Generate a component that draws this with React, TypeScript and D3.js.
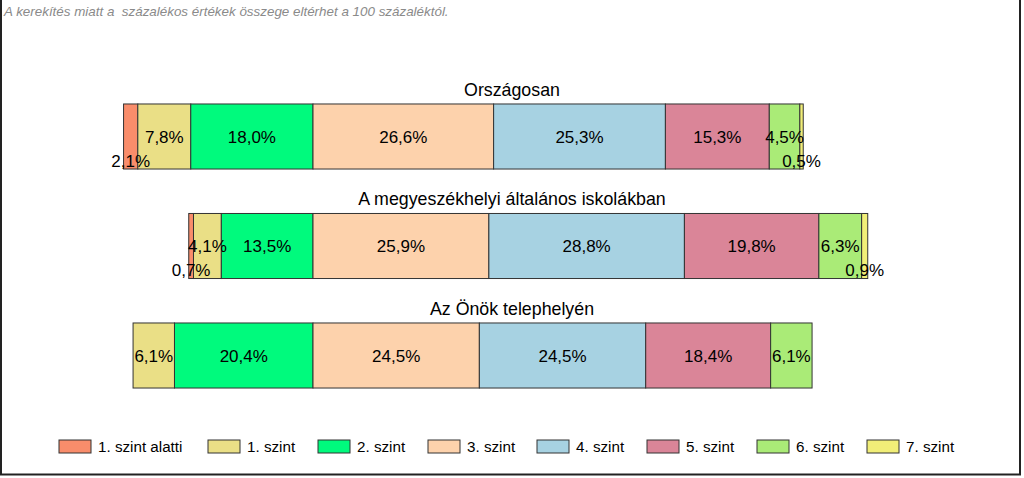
import React from "react";
import * as d3 from "d3";

const categories = ["Országosan", "A megyeszékhelyi általános iskolákban", "Az Önök telephelyén"];
const levels = ["1. szint alatti", "1. szint", "2. szint", "3. szint", "4. szint", "5. szint", "6. szint", "7. szint"];
const colors = ["#F98D6B", "#EADF86", "#00FA7D", "#FDD2AC", "#A7D2E2", "#DA8598", "#AAEB77", "#F1EE78"];
const orszagosan = [2.1, 7.8, 18.0, 26.6, 25.3, 15.3, 4.5, 0.5];
const megyeszekhely = [0.7, 4.1, 13.5, 25.9, 28.8, 19.8, 6.3, 0.9];
const telephely = [0, 6.1, 20.4, 24.5, 24.5, 18.4, 6.1, 0];
const series = [orszagosan, megyeszekhely, telephely];
const note = "A kerekítés miatt a  százalékos értékek összege eltérhet a 100 százaléktól.";

const FONT = "'Liberation Sans', Arial, sans-serif";

export default function App() {
  const pxPer = 6.79;
  const zeroX = 313;
  const x = d3.scaleLinear().domain([-30, 75]).range([zeroX - 30 * pxPer, zeroX + 75 * pxPer]);
  const y = d3
    .scaleBand<string>()
    .domain(categories)
    .range([104 - 22.25, 388 + 22.25])
    .paddingInner(0.406)
    .paddingOuter(0.203);
  const fmt = (v: number) => d3.format(".1f")(v).replace(".", ",") + "%";

  const legendX = [59, 208, 318, 428, 537, 647, 757, 867];

  return (
    <svg width={1024} height={478} style={{ position: "absolute", left: 0, top: 0, background: "#fff" }}>
      <rect x={0} y={0} width={1024} height={478} fill="#fff" />
      <line x1={1} y1={0} x2={1} y2={475} stroke="#222" strokeWidth={2} />
      <line x1={1020} y1={0} x2={1020} y2={475} stroke="#222" strokeWidth={2} />
      <line x1={0} y1={474.5} x2={1021} y2={474.5} stroke="#222" strokeWidth={2} />
      <text x={4} y={16} fontFamily={FONT} fontStyle="italic" fontSize={13.4} fill="#8a8a8a" style={{ whiteSpace: "pre" }}>
        {note}
      </text>
      {categories.map((cat, ci) => {
        const vals = series[ci];
        const before = vals[0] + vals[1] + vals[2];
        let cum = -before;
        const y0 = y(cat)!;
        const h = y.bandwidth();
        const segs = vals.map((v, li) => {
          const s = cum;
          cum += v;
          return { v, li, s, e: cum };
        });
        return (
          <g key={cat}>
            <text x={512} y={y0 - 8} textAnchor="middle" fontFamily={FONT} fontSize={17.8} fill="#000">
              {cat}
            </text>
            {segs.filter((d) => d.v > 0).map((d) => (
              <rect
                key={d.li}
                x={x(d.s)}
                y={y0}
                width={x(d.e) - x(d.s)}
                height={h}
                fill={colors[d.li]}
                stroke="#333"
                strokeWidth={1}
              />
            ))}
            {segs.filter((d) => d.v > 0).map((d) => {
              const cx = (x(d.s) + x(d.e)) / 2;
              const small = d.v < 3;
              return (
                <text
                  key={"t" + d.li}
                  x={cx}
                  y={y0 + h / 2 + (small ? 24 : 0)}
                  dy="0.36em"
                  textAnchor="middle"
                  fontFamily={FONT}
                  fontSize={17}
                  fill="#000"
                >
                  {fmt(d.v)}
                </text>
              );
            })}
          </g>
        );
      })}
      {levels.map((l, i) => (
        <g key={l}>
          <rect x={legendX[i]} y={440} width={32} height={13} fill={colors[i]} stroke="#333" strokeWidth={1} />
          <text x={legendX[i] + 39} y={452} fontFamily={FONT} fontSize={15.2} fill="#000">
            {l}
          </text>
        </g>
      ))}
    </svg>
  );
}
